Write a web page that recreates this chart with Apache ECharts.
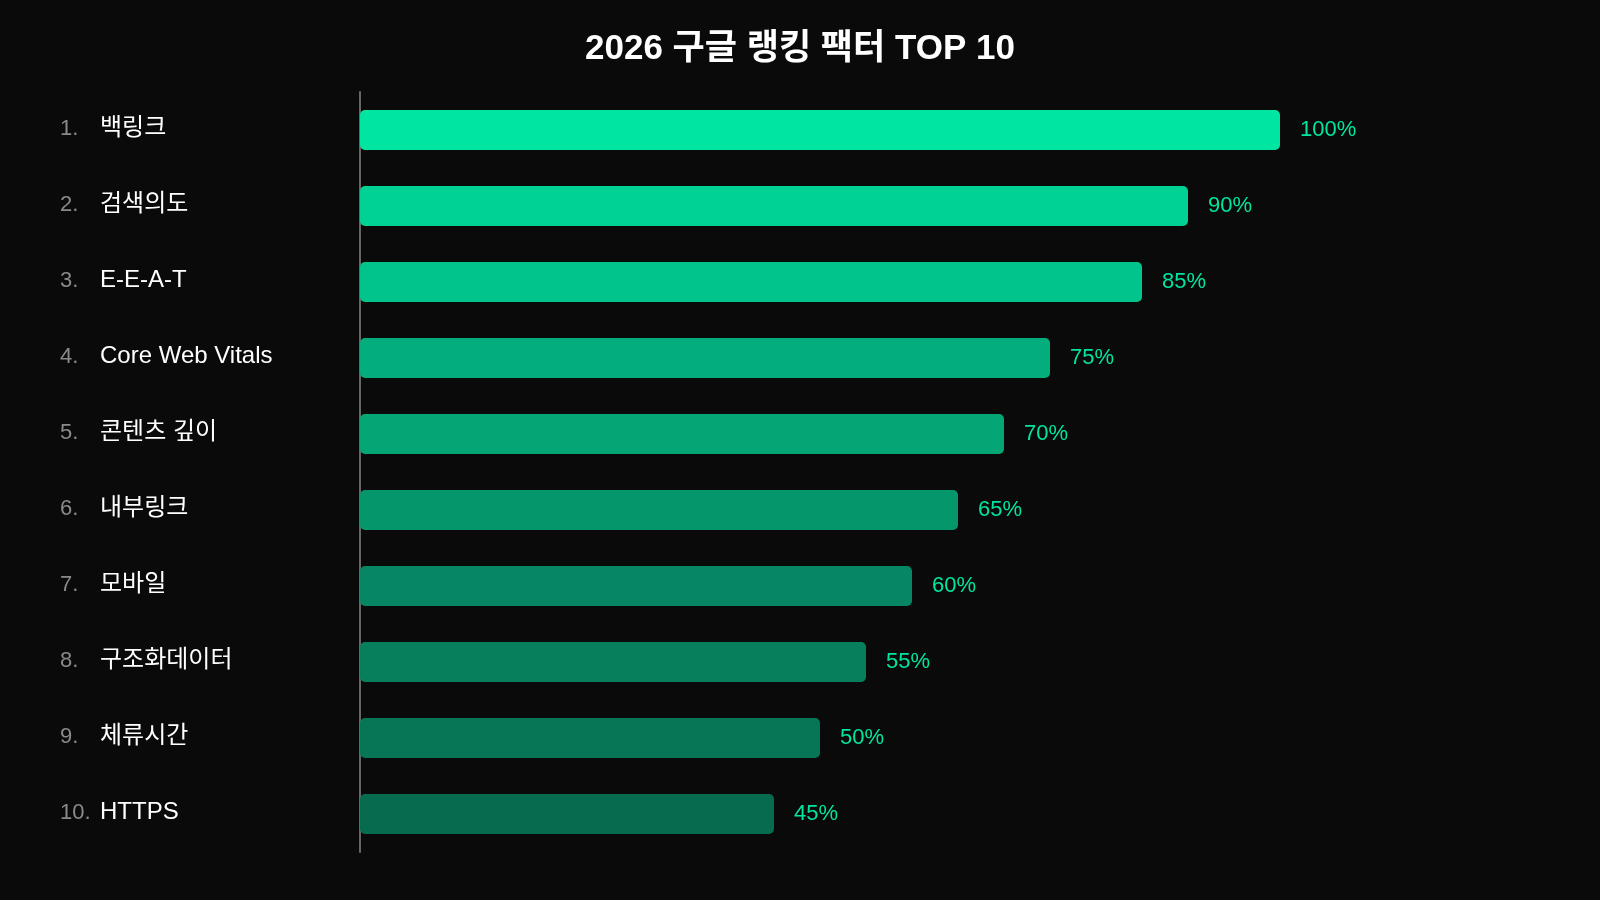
<!DOCTYPE html>
<html>
<head>
<meta charset="utf-8">
<title>2026 구글 랭킹 팩터 TOP 10</title>
<script src="https://cdn.jsdelivr.net/npm/echarts@6/dist/echarts.min.js"></script>
<style>
  html, body { margin: 0; padding: 0; background: #0a0a0a; }
  #chart { width: 1600px; height: 900px; }
</style>
</head>
<body>
<div id="chart"></div>
<script>
// data
const factors = ['백링크', '검색의도', 'E-E-A-T', 'Core Web Vitals', '콘텐츠 깊이',
  '내부링크', '모바일', '구조화데이터', '체류시간', 'HTTPS'];
const scores = [100, 90, 85, 75, 70, 65, 60, 55, 50, 45];
const barColors = ['#00e6a1', '#00d194', '#00c48b', '#03ae7c', '#04a676',
  '#05966b', '#068662', '#077f5c', '#077656', '#076c4f'];

const FONT = '"Liberation Sans", Arial, "Noto Sans CJK KR", sans-serif';

const chart = echarts.init(document.getElementById('chart'));

chart.setOption({
  backgroundColor: '#0a0a0a',
  title: {
    text: '2026 구글 랭킹 팩터 TOP 10',
    left: 'center',
    top: 27,
    textStyle: { color: '#fff', fontSize: 35, fontWeight: 'bold', fontFamily: FONT }
  },
  grid: { left: 360, right: 320, top: 92, bottom: 48 },
  xAxis: {
    type: 'value',
    min: 0,
    max: 100,
    show: false
  },
  yAxis: {
    type: 'category',
    inverse: true,
    data: factors,
    axisLine: { show: true, lineStyle: { color: '#666', width: 2 } },
    axisTick: { show: false },
    axisLabel: {
      align: 'left',
      margin: 300,
      formatter: (v, i) => '{r|' + (i + 1) + '.}{n|' + v + '}',
      rich: {
        r: { color: '#8a8a8a', fontSize: 22, width: 40, fontFamily: FONT, padding: [0, 0, 3, 0] },
        n: { color: '#ffffff', fontSize: 24, fontFamily: FONT, padding: [0, 0, 3, 0] }
      }
    }
  },
  series: [{
    type: 'bar',
    barWidth: 40,
    data: scores.map((v, i) => ({ value: v, itemStyle: { color: barColors[i] } })),
    itemStyle: { borderRadius: 5 },
    label: {
      show: true,
      position: 'right',
      distance: 20,
      formatter: '{c}%',
      color: '#00e5a0',
      fontSize: 22,
      fontFamily: FONT,
      padding: [4, 0, 0, 0]
    }
  }]
});
</script>
</body>
</html>
